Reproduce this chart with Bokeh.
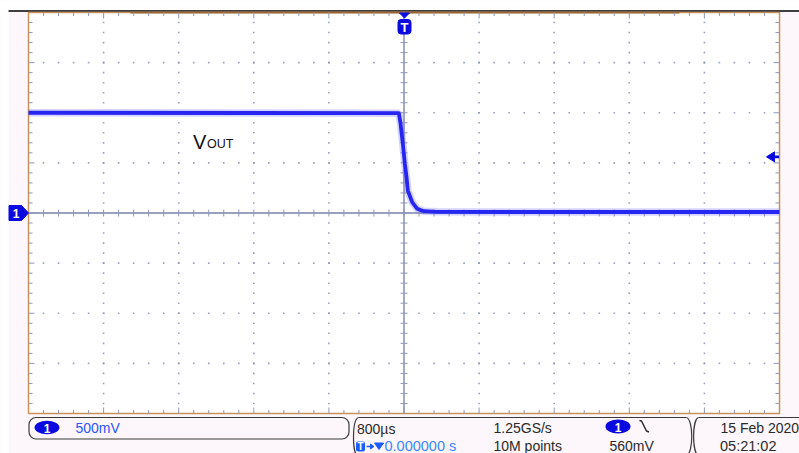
import numpy as np
from bokeh.plotting import figure
from bokeh.models import Range1d, Label
from bokeh.embed import file_html
from bokeh.resources import INLINE

# ---------------- data ----------------
time_ms = [-4.0, -0.055, -0.037, -0.0085, 0.0085, 0.027, 0.041, 0.087, 0.141, 0.211, 0.35, 1.2, 4.0]
vout_V = [1.0, 0.996, 0.893, 0.656, 0.494, 0.357, 0.224, 0.108, 0.042, 0.018, 0.012, 0.01, 0.01]
time_per_div_ms = 0.8
volts_per_div = 0.5
n_xdiv, n_ydiv = 10, 8
trigger_time_ms = 0.0
trigger_level_V = 0.56
ch_scale = "500mV"
timebase = "800µs"
trig_pos = "0.000000 s"
sample_rate = "1.25GS/s"
record_len = "10M points"
trig_level_txt = "560mV"
date_txt = "15 Feb  2020"
time_txt = "05:21:02"
trace_name, trace_sub = "V", "OUT"

# ---------------- geometry (picture pixels of the graticule) ----------------
OX, OY = 0, 0          # where the canvas lands in the picture
W, H = 799, 453
FX0, FX1, FY0, FY1 = 28, 779, 12, 413
XMIN = -time_per_div_ms * n_xdiv / 2
XMAX = -XMIN
YMAX = volts_per_div * n_ydiv / 2
YMIN = -YMAX
sx = (FX1 - FX0) / (XMAX - XMIN)
sy = (FY1 - FY0) / (YMAX - YMIN)


def X(px):
    return XMIN + (px - FX0) / sx


def Y(py):
    return YMAX - (py - FY0) / sy


def DX(n):
    return n / sx


def DY(n):
    return n / sy


BG = "#fdf6fb"
FRAME = "#c8925a"
GRID = "#9097b8"
BLUE = "#0a0ae0"
TXT = "#2a2a2a"
FONT = "Liberation Sans"


def label(px, py, text, size, color=TXT, align="left", bold=False):
    p.add_layout(Label(x=X(px), y=Y(py), text=text, text_font=FONT, text_font_size=size,
                       text_color=color, text_align=align, text_baseline="middle",
                       text_font_style="bold" if bold else "normal"))


p = figure(width=W, height=H, x_range=Range1d(X(OX), X(OX + W)), y_range=Range1d(Y(OY + H), Y(OY)),
           output_backend="svg", toolbar_location=None, min_border=0,
           x_axis_location=None, y_axis_location=None,
           background_fill_color=BG, border_fill_color=BG, outline_line_color=None)
p.grid.visible = False

# white strip above the black top line, white page margin on the left
p.quad(left=X(OX), right=X(OX + W), top=Y(OY), bottom=Y(10), fill_color="white", line_color=None)
p.quad(left=X(OX), right=X(8), top=Y(OY), bottom=Y(OY + H), fill_color="white", line_color=None)
p.segment(X(8), Y(10.5), X(OX + W), Y(10.5), line_color="black", line_width=1.5)

# graticule area
p.quad(left=XMIN, right=XMAX, bottom=YMIN, top=YMAX, fill_color="white", line_color=FRAME, line_width=1.5)
p.segment(X(130), YMAX, X(679), YMAX, line_color="#9a6a3a", line_width=2)

# dotted grid lines
xdiv = np.array([XMIN + k * time_per_div_ms for k in range(1, n_xdiv)])
ydiv = np.array([YMIN + k * volts_per_div for k in range(1, n_ydiv)])
yminor = np.arange(YMIN + volts_per_div / 5, YMAX - 1e-9, volts_per_div / 5)
xminor = np.arange(XMIN + time_per_div_ms / 5, XMAX - 1e-9, time_per_div_ms / 5)
gx, gy = [], []
for xv in xdiv:
    if abs(xv - trigger_time_ms) < 1e-9:
        continue
    gx += [xv] * len(yminor)
    gy += list(yminor)
for yv in ydiv:
    if abs(yv) < 1e-9:
        continue
    gx += list(xminor)
    gy += [yv] * len(xminor)
p.scatter(gx, gy, marker="square", size=1.6, fill_color=GRID, line_color=None, alpha=0.9)

# centre cross with ticks
p.segment(0, YMIN, 0, YMAX, line_color="#9aa1bd", line_width=1.8)
p.segment(XMIN, 0, XMAX, 0, line_color="#9aa1bd", line_width=1.8)
p.segment(x0=[-DX(3.5)] * len(yminor), y0=list(yminor), x1=[DX(3.5)] * len(yminor), y1=list(yminor),
          line_color=GRID, line_width=1)
p.segment(x0=list(xminor), y0=[-DY(3.5)] * len(xminor), x1=list(xminor), y1=[DY(3.5)] * len(xminor),
          line_color=GRID, line_width=1)


# edge ticks
def is_div(v, step, origin):
    r = (v - origin) / step
    return abs(r - round(r)) < 1e-6


tl = [DY(6) if is_div(v, time_per_div_ms, XMIN) else DY(3.5) for v in xminor]
p.segment(x0=list(xminor), y0=[YMAX] * len(xminor), x1=list(xminor), y1=[YMAX - t for t in tl],
          line_color=GRID, line_width=1)
p.segment(x0=list(xminor), y0=[YMIN] * len(xminor), x1=list(xminor), y1=[YMIN + t for t in tl],
          line_color=GRID, line_width=1)
ll = [DX(6) if is_div(v, volts_per_div, YMIN) else DX(4) for v in yminor]
p.segment(x0=[XMIN] * len(yminor), y0=list(yminor), x1=[XMIN + t for t in ll], y1=list(yminor),
          line_color=GRID, line_width=1)
p.segment(x0=[XMAX] * len(yminor), y0=list(yminor), x1=[XMAX - t for t in ll], y1=list(yminor),
          line_color=GRID, line_width=1)

# trace
p.line(time_ms, vout_V, line_width=7.5, line_color="#7070ff", line_alpha=0.3)
p.line(time_ms, vout_V, line_width=3.8, line_color="#2626f0", line_join="round")

# trace label
label(192.5, 141, trace_name, "20px", color="#111111")
label(206.5, 143.2, trace_sub, "12.5px", color="#111111")

# trigger position marker (top)
p.patch([X(399), X(409), X(404)], [Y(12.5), Y(12.5), Y(17.5)], fill_color=BLUE, line_color=BLUE)
p.quad(left=X(397.5), right=X(410.5), top=Y(19), bottom=Y(33.5), fill_color=BLUE, line_color=BLUE,
       border_radius=3)
label(404, 26.5, "T", "13px", color="white", align="center", bold=True)

# channel 1 ground marker (left)
p.patch([X(8.5), X(21), X(28), X(21), X(8.5)], [Y(205), Y(205), 0, Y(220), Y(220)],
        fill_color=BLUE, line_color=BLUE)
p.add_layout(Label(x=X(15.5), y=0, text="1", text_font=FONT, text_font_style="bold",
                   text_font_size="12px", text_color="white", text_align="center", text_baseline="middle"))

# trigger level arrow (right)
p.patch([X(766), X(774), X(774)], [trigger_level_V, trigger_level_V + DY(5), trigger_level_V - DY(5)],
        fill_color=BLUE, line_color=BLUE)
p.segment(X(772), trigger_level_V, X(778.5), trigger_level_V, line_color=BLUE, line_width=2.8)

# ---------------- status bar ----------------
# box 1
p.quad(left=X(28.5), right=X(348.5), top=Y(417), bottom=Y(438.5), fill_color=None,
       line_color="#3a3a3a", line_width=1.2, border_radius=7)
p.ellipse(x=X(46.5), y=Y(427), width=DX(25), height=DY(13.5), fill_color=BLUE, line_color=None)
label(46.5, 427.5, "1", "12px", color="white", align="center", bold=True)
label(75, 427.5, ch_scale, "14px", color="#2a55ff")

# box 2 / box 3 outlines
p.segment(X(358), Y(417), X(686), Y(417), line_color="#3a3a3a", line_width=1.2)
p.segment(X(698), Y(417), X(OX + W), Y(417), line_color="#3a3a3a", line_width=1.2)
p.bezier(x0=[X(358), X(686), X(698)], y0=[Y(417)] * 3, x1=[X(357), X(686), X(698)], y1=[Y(455)] * 3,
         cx0=[X(351.5), X(693), X(691.5)], cy0=[Y(419)] * 3, cx1=[X(351.5), X(693), X(691.5)],
         cy1=[Y(453)] * 3, line_color="#3a3a3a", line_width=1.2)

label(356.5, 428, timebase, "14px")
p.quad(left=X(355.5), right=X(364.5), top=Y(441), bottom=Y(451), fill_color="#1a5cff", line_color=None,
       border_radius=2)
label(360, 446.3, "T", "10px", color="white", align="center", bold=True)
p.segment(X(366), Y(446), X(371), Y(446), line_color="#1a5cff", line_width=1.5)
p.patch([X(370), X(373.5), X(370)], [Y(443.5), Y(446), Y(448.5)], fill_color="#1a5cff", line_color="#1a5cff")
p.patch([X(374), X(383), X(378.5)], [Y(442.5), Y(442.5), Y(449)], fill_color="#1a5cff", line_color="#1a5cff")
label(384, 445, trig_pos, "14.5px", color="#3a86ff")

label(493, 427.5, sample_rate, "14px")
label(493, 445, record_len, "14px")

p.ellipse(x=X(617.5), y=Y(426), width=DX(25), height=DY(14), fill_color=BLUE, line_color=None)
label(617.5, 426.5, "1", "12px", color="white", align="center", bold=True)
p.line([X(639), X(641), X(646), X(648.5)], [Y(420), Y(420.5), Y(430.5), Y(431.5)],
       line_color=TXT, line_width=1.5)
label(609, 445, trig_level_txt, "14px")

label(720, 427.5, date_txt, "14px")
label(719.5, 445, time_txt, "14.5px")

open("out.html", "w").write(file_html(p, INLINE))
